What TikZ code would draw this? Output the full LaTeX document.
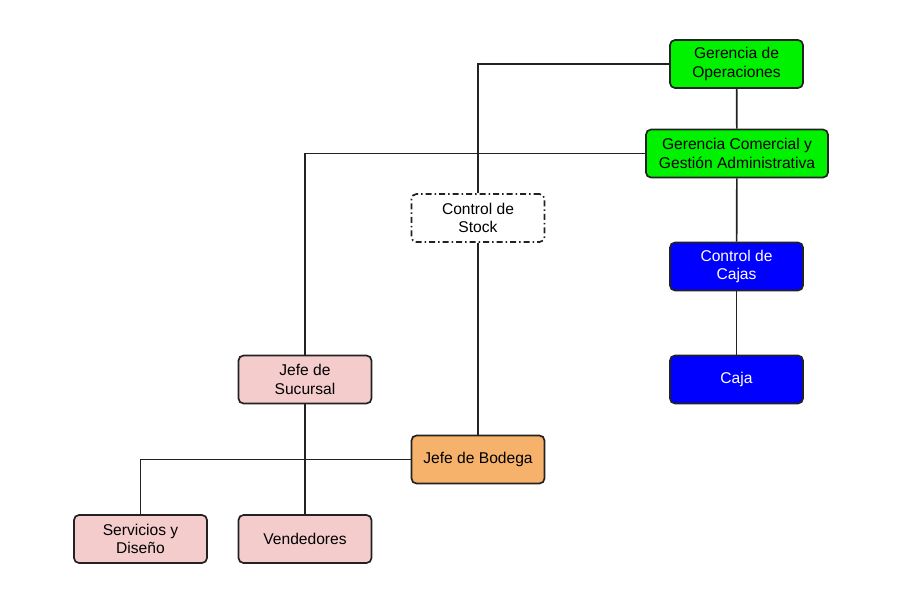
\documentclass[tikz,border=0pt]{standalone}
\usepackage{fontspec}
\setmainfont{Liberation Sans}
\usetikzlibrary{positioning}
\definecolor{ggreen}{HTML}{00F200}
\definecolor{gblue}{HTML}{0000FF}
\definecolor{gpink}{HTML}{F4CCCC}
\definecolor{gorange}{HTML}{F6B26B}
\definecolor{gline}{HTML}{222222}
\begin{document}
\begin{tikzpicture}[x=1pt,y=-1pt, every node/.style={font=\fontsize{15.6}{18.3}\selectfont,align=center}, box/.style={draw=gline,line width=1.7pt,rounded corners=5pt,minimum width=133pt,minimum height=48pt,inner sep=2pt}, link/.style={gline,line width=1.7pt}]
\useasboundingbox (0,0) rectangle (900,600);
\node[box,fill=ggreen] (ops) at (736.5,64) {Gerencia de\\Operaciones};
\node[box,fill=ggreen,minimum width=182pt] (com) at (737,153.5) {Gerencia Comercial y\\Gestión Administrativa};
\node[box,fill=gblue,text=white] (cajas) at (736.5,266.5) {Control de\\Cajas};
\node[box,fill=gblue,text=white] (caja) at (736.5,379.5) {Caja};
\node[box,dash pattern=on 6pt off 3pt on 1.5pt off 3pt] (stock) at (478,218) {Control de\\Stock};
\node[box,fill=gpink] (suc) at (305,379.5) {Jefe de\\Sucursal};
\node[box,fill=gorange] (bod) at (478,459.5) {Jefe de Bodega};
\node[box,fill=gpink] (serv) at (140.5,539) {Servicios y\\Diseño};
\node[box,fill=gpink] (vend) at (305,539) {Vendedores};
\draw[link] (ops.west) -| (stock.north); \draw[link] (stock.south) -- (bod.north);
\draw[link] (ops) -- (com); \draw[link] (com) -- (cajas); \draw[link] (cajas) -- (caja);
\draw[link] (com.west) -| (suc.north); \draw[link] (suc) -- (vend);
\draw[link] (bod.west) -| (serv.north);
\end{tikzpicture}
\end{document}
